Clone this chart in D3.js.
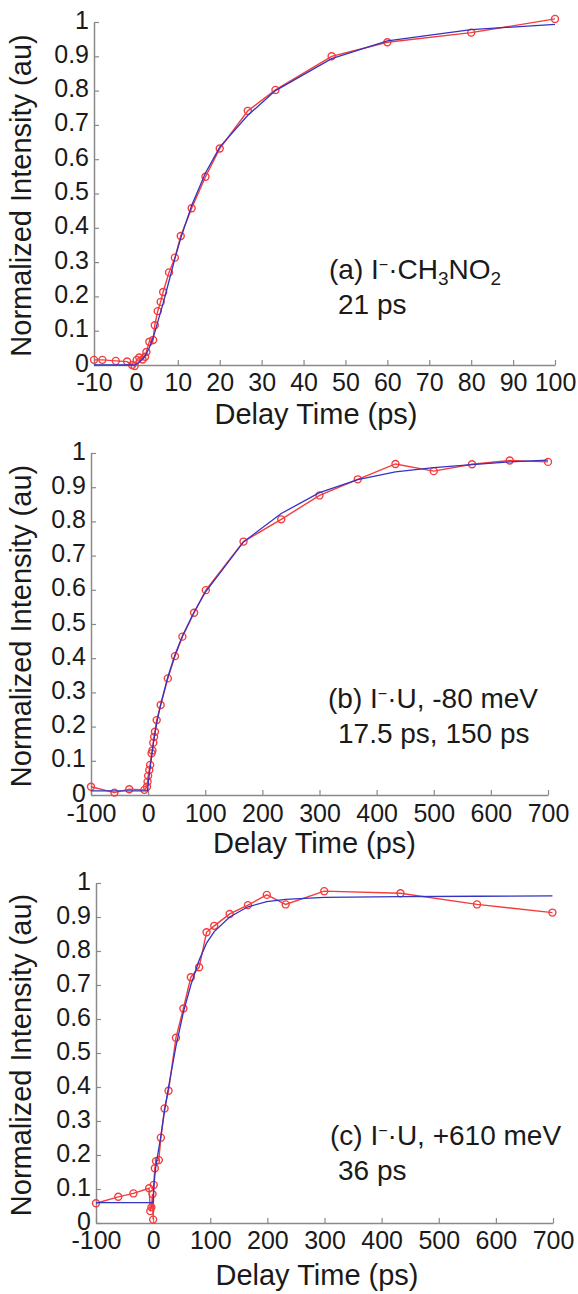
<!DOCTYPE html>
<meta charset="UTF-8">
<script src="https://d3js.org/d3.v7.min.js"></script>
<style>
  body { margin: 0; background: #fff; }
  text { font-family: "Liberation Sans", Arial, sans-serif; fill: #1a1a1a; }
</style>
<div id="fig"></div>
<script>

  // (a) I-.CH3NO2
  const timeA   = [-10, -8, -4.8, -2.1, -0.9, -0.3, 0.2, 0.8, 1.6, 2.2, 2.5, 3.2, 4.1, 4.5, 5.2, 5.9, 6.5, 7.9, 9.3, 10.7, 13.3, 16.6, 20, 26.7, 33.3, 46.7, 60, 80, 100];
  const signalA = [0.015, 0.015, 0.012, 0.01, 0.0, -0.003, 0.015, 0.022, 0.016, 0.024, 0.038, 0.068, 0.073, 0.116, 0.157, 0.184, 0.213, 0.27, 0.313, 0.376, 0.457, 0.549, 0.631, 0.741, 0.802, 0.90, 0.941, 0.969, 1.009];
  const fitA    = [0, 0, 0, 0, 0, 0, 0.003, 0.008, 0.018, 0.027, 0.033, 0.05, 0.08, 0.095, 0.125, 0.155, 0.18, 0.245, 0.31, 0.37, 0.465, 0.56, 0.635, 0.728, 0.80, 0.893, 0.945, 0.978, 0.993];

  // (b) I-.U, -80 meV
  const timeB   = [-100, -59, -33, -6.5, -2, -1, 0, 2, 3.5, 6, 7.5, 9, 10.5, 12, 15, 22, 34.5, 47, 60, 80.5, 101, 167, 233, 300, 367, 433, 500, 567, 633, 700];
  const signalB = [0.024, 0.007, 0.017, 0.015, 0.024, 0.039, 0.056, 0.073, 0.088, 0.122, 0.13, 0.153, 0.17, 0.185, 0.219, 0.263, 0.341, 0.406, 0.463, 0.533, 0.599, 0.741, 0.806, 0.876, 0.923, 0.968, 0.947, 0.967, 0.978, 0.974];
  const fitB    = [0.012, 0.012, 0.012, 0.012, 0.012, 0.012, 0.03, 0.06, 0.08, 0.11, 0.13, 0.15, 0.165, 0.18, 0.21, 0.265, 0.345, 0.41, 0.465, 0.535, 0.595, 0.74, 0.823, 0.884, 0.922, 0.945, 0.957, 0.966, 0.974, 0.979];

  // (c) I-.U, +610 meV
  const timeC   = [-100, -61, -34.5, -7, -5, -3, -1, 0, 1, 3, 5, 10, 13.5, 20, 27, 40, 53, 66, 80.5, 93.5, 107, 134, 166, 199, 232, 299.5, 433, 567, 699];
  const signalC = [0.058, 0.077, 0.087, 0.102, 0.035, 0.046, 0.085, 0.01, 0.112, 0.161, 0.182, 0.185, 0.251, 0.337, 0.389, 0.545, 0.631, 0.723, 0.752, 0.855, 0.874, 0.909, 0.935, 0.965, 0.937, 0.976, 0.97, 0.937, 0.913];
  const fitC    = [0.06, 0.06, 0.06, 0.06, 0.06, 0.06, 0.06, 0.06, 0.1, 0.14, 0.17, 0.22, 0.255, 0.33, 0.40, 0.52, 0.62, 0.70, 0.773, 0.823, 0.857, 0.90, 0.93, 0.945, 0.952, 0.958, 0.96, 0.961, 0.962];

  // ticks
  const xTicksA = [-10, 0, 10, 20, 30, 40, 50, 60, 70, 80, 90, 100];
  const xTicksBC = [-100, 0, 100, 200, 300, 400, 500, 600, 700];
  const yTicks = [0, 0.1, 0.2, 0.3, 0.4, 0.5, 0.6, 0.7, 0.8, 0.9, 1];

  const xLabel = "Delay Time (ps)";
  const yLabel = "Normalized Intensity (au)";

  const red = "#f53c3c", blue = "#3333c4", grey = "#8a8a8a";

  const svg = d3.select("#fig")
    .append("svg")
    .attr("width", 578)
    .attr("height", 1294);

  const panels = [
    {t: timeA, s: signalA, f: fitA, xd: [-10, 100], ticks: xTicksA,
     left: 94, right: 555, top: 22, bottom: 365, tickPad: 8, titleY: 424,
     lx: 329, ly: 279, line1: ["(a) I", "CH", "3", "NO", "2"], line2: "21 ps"},
    {t: timeB, s: signalB, f: fitB, xd: [-100, 700], ticks: xTicksBC,
     left: 91, right: 548, top: 453, bottom: 795, tickPad: 9, titleY: 853,
     lx: 328, ly: 708, line1: ["(b) I", "U, -80 meV"], line2: "17.5 ps, 150 ps"},
    {t: timeC, s: signalC, f: fitC, xd: [-100, 700], ticks: xTicksBC,
     left: 96, right: 553, top: 883, bottom: 1223, tickPad: 8, titleY: 1285,
     lx: 330, ly: 1145, line1: ["(c) I", "U, +610 meV"], line2: "36 ps"}
  ];

  // plain hyphen for negatives, like the original
  const fmt = d => String(+d.toFixed(1));

  panels.forEach(function(p) {

    const x = d3.scaleLinear().domain(p.xd).range([p.left, p.right]);
    const y = d3.scaleLinear().domain([0, 1]).range([p.bottom, p.top]);

    const g = svg.append("g");

    // axes, ticks pointing inward
    const xAxis = g.append("g")
      .attr("transform", `translate(0,${p.bottom})`)
      .call(d3.axisBottom(x).tickValues(p.ticks).tickSizeInner(-5).tickSizeOuter(0).tickPadding(p.tickPad).tickFormat(fmt));

    const yAxis = g.append("g")
      .attr("transform", `translate(${p.left},0)`)
      .call(d3.axisLeft(y).tickValues(yTicks).tickSizeInner(-5).tickSizeOuter(0).tickPadding(5).tickFormat(fmt));

    [xAxis, yAxis].forEach(a => {
      a.select(".domain").attr("stroke", grey).attr("stroke-width", 1.5);
      a.selectAll(".tick line").attr("stroke", grey).attr("stroke-width", 1.2);
      a.selectAll("text")
        .attr("fill", "#1a1a1a")
        .style("font-size", "25px")
        .style("font-family", "'Liberation Sans', Arial, sans-serif");
    });
    yAxis.selectAll("text").attr("dy", "0.24em");

    const pts = p.t.map((d, i) => ({t: d, s: p.s[i], f: p.f[i]}));

    // measured data
    g.append("path")
      .datum(pts)
      .attr("fill", "none")
      .attr("stroke", red)
      .attr("stroke-width", 1.4)
      .attr("d", d3.line().x(d => x(d.t)).y(d => y(d.s)));

    g.selectAll("circle.pt")
      .data(pts)
      .join("circle")
      .attr("class", "pt")
      .attr("cx", d => x(d.t))
      .attr("cy", d => y(d.s))
      .attr("r", 3.5)
      .attr("fill", "none")
      .attr("stroke", red)
      .attr("stroke-width", 1.4);

    // fit
    g.append("path")
      .datum(pts)
      .attr("fill", "none")
      .attr("stroke", blue)
      .attr("stroke-width", 1.3)
      .attr("d", d3.line().x(d => x(d.t)).y(d => y(d.f)));

    // axis titles
    g.append("text")
      .attr("x", 316 + (p.left - 94) / 2)
      .attr("y", p.titleY)
      .attr("text-anchor", "middle")
      .style("font-size", "29px")
      .text(xLabel);

    g.append("text")
      .attr("transform", `rotate(-90)`)
      .attr("x", -(p.top + p.bottom) / 2 - 2)
      .attr("y", 31)
      .attr("text-anchor", "middle")
      .style("font-size", "29px")
      .text(yLabel);

    // annotation
    const l1 = g.append("text")
      .attr("x", p.lx)
      .attr("y", p.ly)
      .style("font-size", "28px");

    l1.append("tspan").text(p.line1[0]);
    l1.append("tspan").attr("dy", -9).style("font-size", "16px").text("\u2212");
    l1.append("tspan").attr("dy", 9).text("\u00b7" + p.line1[1]);
    if (p.line1.length > 2) {
      l1.append("tspan").attr("dy", 6).style("font-size", "19px").text(p.line1[2]);
      l1.append("tspan").attr("dy", -6).text(p.line1[3]);
      l1.append("tspan").attr("dy", 6).style("font-size", "19px").text(p.line1[4]);
    }

    g.append("text")
      .attr("x", 338)
      .attr("y", p.ly + 35)
      .style("font-size", "28px")
      .text(p.line2);
  });

</script>
